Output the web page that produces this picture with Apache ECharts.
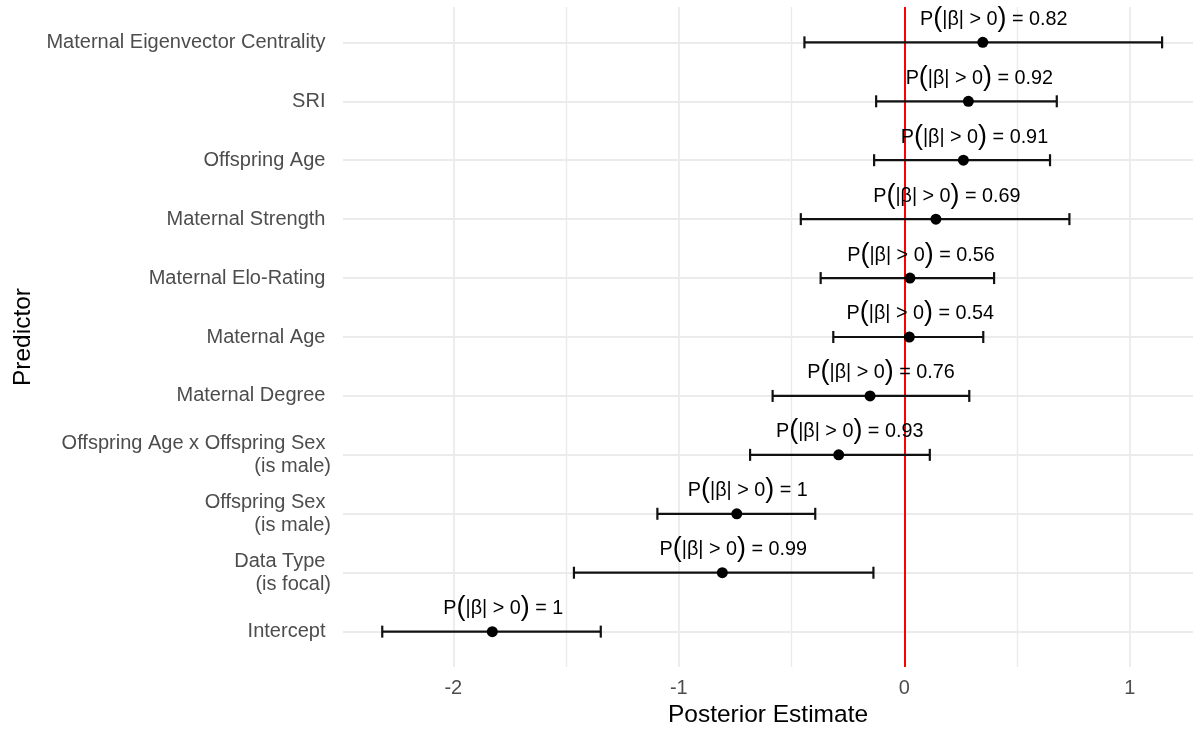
<!DOCTYPE html>
<html><head><meta charset="utf-8">
<script src="https://cdn.jsdelivr.net/npm/echarts@6/dist/echarts.min.js"></script>
<style>html,body{margin:0;padding:0;background:#fff}#c{width:1193px;height:729px}</style>
</head><body><div id="c"></div>
<script>
const predictors = ["Maternal Eigenvector Centrality","SRI","Offspring Age","Maternal Strength","Maternal Elo-Rating","Maternal Age","Maternal Degree","Offspring Age x Offspring Sex \n(is male)","Offspring Sex \n(is male)","Data Type \n(is focal)","Intercept"];
const estimate = [0.348,0.284,0.262,0.140,0.025,0.022,-0.152,-0.291,-0.743,-0.807,-1.827];
const lower = [-0.443,-0.125,-0.134,-0.459,-0.371,-0.315,-0.584,-0.684,-1.095,-1.465,-2.315];
const upper = [1.143,0.676,0.646,0.732,0.398,0.350,0.288,0.113,-0.395,-0.137,-1.346];
const probNonZero = ["0.82","0.92","0.91","0.69","0.56","0.54","0.76","0.93","1","0.99","1"];
const xTicks = [-2,-1,0,1];
const xMinorTicks = [-1.5,-0.5,0.5];

const FONT = "'Liberation Sans', Arial, sans-serif";
const rowIdx = predictors.map((_, i) => i);
const chart = echarts.init(document.getElementById('c'), null, {renderer: 'canvas'});

const rich = {
  t: {fontSize: 19.8, fontFamily: FONT, color: '#000'},
  p: {fontSize: 27, fontFamily: FONT, color: '#000', padding: [0, 0, 2, 0]}
};

const option = {
  animation: false,
  backgroundColor: '#fff',
  grid: {left: 343, right: 0, top: 7, bottom: 62, outerBoundsMode: 'none', containLabel: false},
  xAxis: {
    type: 'value', min: -2.489, max: 1.28,
    name: 'Posterior Estimate', nameLocation: 'middle', nameGap: 35,
    nameTextStyle: {fontSize: 24.5, color: '#000', fontFamily: FONT},
    axisLine: {show: false}, axisTick: {show: false}, splitLine: {show: false},
    axisLabel: {customValues: xTicks, fontSize: 20, color: '#4d4d4d', fontFamily: FONT, margin: 11,
      formatter: v => String(v)}
  },
  yAxis: {
    type: 'value', min: -0.6, max: 10.6, inverse: true,
    name: 'Predictor', nameLocation: 'middle', nameGap: 303, nameRotate: 90,
    nameTextStyle: {fontSize: 24.5, color: '#000', fontFamily: FONT},
    axisLine: {show: false}, axisTick: {show: false}, splitLine: {show: false},
    axisLabel: {customValues: rowIdx, fontSize: 20, color: '#4d4d4d', fontFamily: FONT, margin: 12,
      lineHeight: 23, align: 'right',
      formatter: v => { const s = predictors[Math.round(v)]; return s.indexOf('\n') >= 0 ? s : s + ' '; }}
  },
  series: [
    {
      type: 'line', data: [], silent: true, z: 0,
      markLine: {
        silent: true, symbol: 'none', z: 0, label: {show: false},
        lineStyle: {color: '#ebebeb', width: 1.8, type: 'solid'},
        emphasis: {disabled: true},
        data: [
          ...xTicks.map(v => ({xAxis: v})),
          ...xMinorTicks.map(v => ({xAxis: v, lineStyle: {width: 1.4}})),
          ...rowIdx.map(i => ({yAxis: i}))
        ]
      }
    },
    {
      type: 'line', data: [], silent: true, z: 1,
      markLine: {
        silent: true, symbol: 'none', z: 1, label: {show: false},
        lineStyle: {color: '#ff0000', width: 2, type: 'solid'},
        emphasis: {disabled: true},
        data: [{xAxis: 0}]
      }
    },
    {
      type: 'custom', z: 3, silent: true,
      data: rowIdx.map(i => [lower[i], upper[i], i]),
      renderItem: (params, api) => {
        const a = api.coord([api.value(0), api.value(2)]);
        const b = api.coord([api.value(1), api.value(2)]);
        const h = 6;
        const st = {stroke: '#111', lineWidth: 2.2};
        return {type: 'group', children: [
          {type: 'line', shape: {x1: a[0], y1: a[1], x2: b[0], y2: b[1]}, style: st},
          {type: 'line', shape: {x1: a[0], y1: a[1] - h, x2: a[0], y2: a[1] + h}, style: st},
          {type: 'line', shape: {x1: b[0], y1: b[1] - h, x2: b[0], y2: b[1] + h}, style: st}
        ]};
      }
    },
    {
      type: 'scatter', z: 4, silent: true, symbol: 'circle', symbolSize: 11,
      itemStyle: {color: '#000', opacity: 1},
      data: rowIdx.map(i => [estimate[i], i]),
      label: {
        show: true, position: 'inside', offset: [11, -23],
        formatter: p => '{t|P}{p|(}{t||β| > 0}{p|)}{t| = ' + probNonZero[p.dataIndex] + '}',
        rich: rich
      }
    }
  ]
};
chart.setOption(option);
</script></body></html>
